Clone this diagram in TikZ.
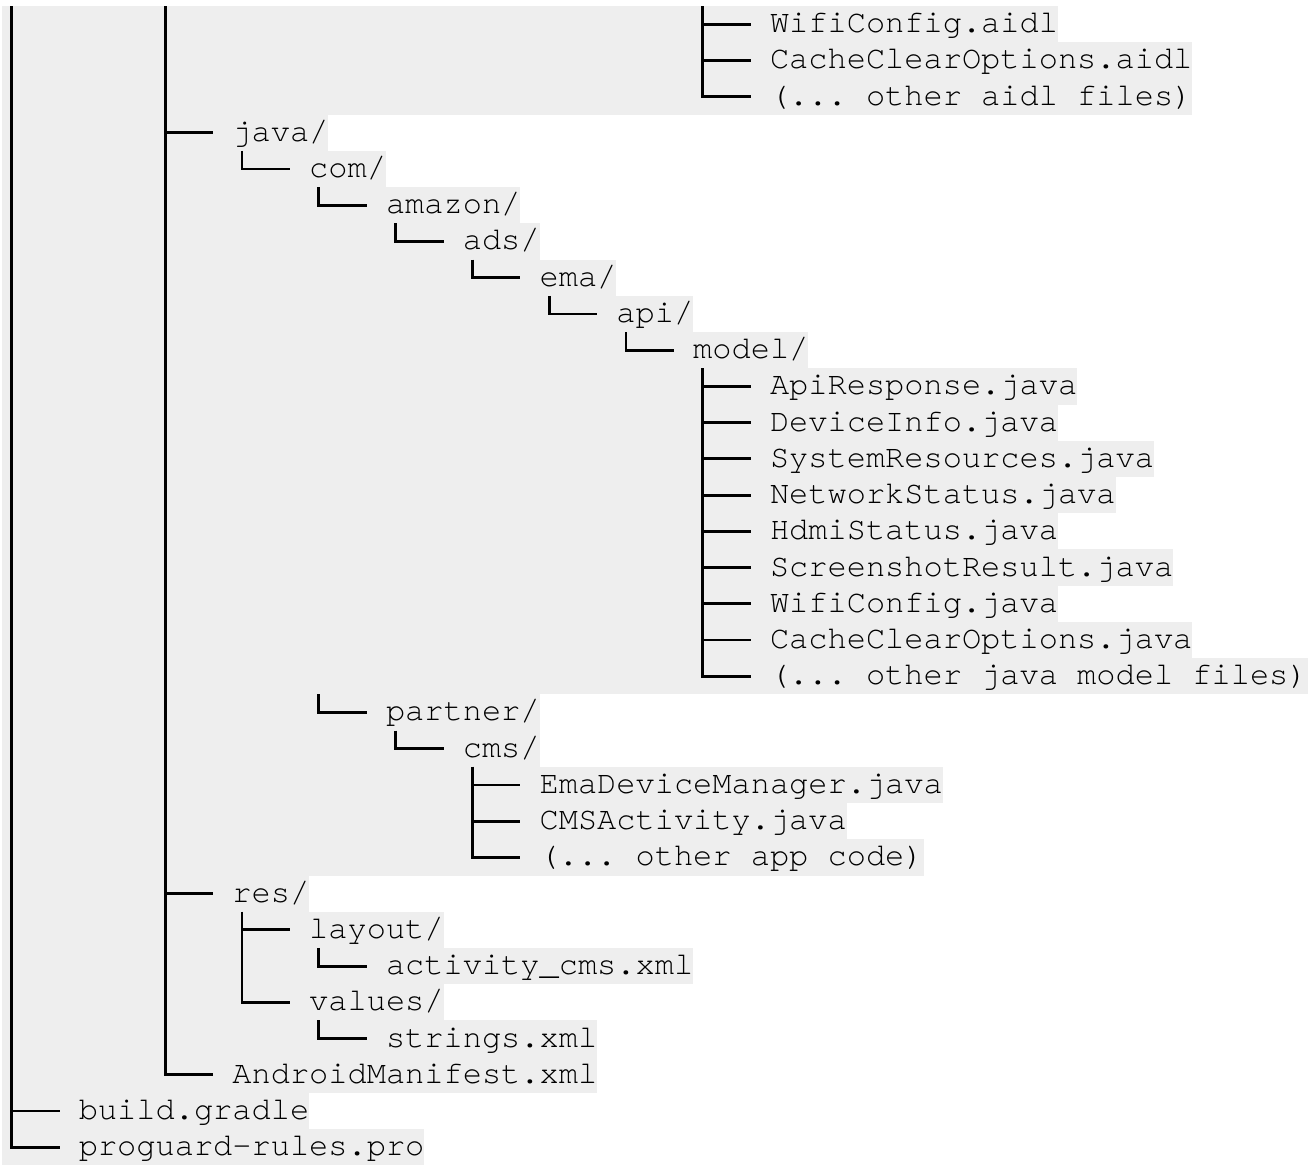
\documentclass[tikz,border=0pt]{standalone}
\usepackage{fontspec}
\newfontfamily\treefont[Ligatures=NoCommon]{texgyrecursor-regular.otf}
\usetikzlibrary{backgrounds}
\definecolor{rowbg}{RGB}{238,238,238}
\tikzset{
  entrybox/.style={anchor=north west, inner sep=0pt, outer sep=0pt,
    text height=26.6pt, text depth=9.63pt,
    font=\treefont\fontsize{32pt}{36.23pt}\selectfont\frenchspacing, text=black},
  conn/.style={draw=black, line width=2.8pt, line join=miter},
  rowfill/.style={fill=rowbg},
}
\newcommand\entry[4]{%
  \node[entrybox] (#1) at ({2+#3*19.2},{-6-#2*36.23}) {#4};
  \begin{scope}[on background layer]
    \fill[rowfill] (#1.north -| leftedge) rectangle (#1.south east);
  \end{scope}}
\newcommand\branch[2]{%
  \draw[conn] (#1) |- ([xshift=-19.2pt]#2.west);}
\begin{document}
\begin{tikzpicture}[x=1pt,y=1pt]
\useasboundingbox (0,0) rectangle (1308,-1165);
\coordinate (leftedge) at (2,0);
\coordinate (top0) at ({2+9.6},-6);
\coordinate (top8) at ({2+8*19.2+9.6},-6);
\coordinate (top36) at ({2+36*19.2+9.6},-6);

\entry{aidlA}{0}{40}{WifiConfig.aidl}
\entry{aidlB}{1}{40}{CacheClearOptions.aidl}
\entry{aidlC}{2}{40}{(... other aidl files)}
\entry{java}{3}{12}{java/}
\entry{com}{4}{16}{com/}
\entry{amazon}{5}{20}{amazon/}
\entry{ads}{6}{24}{ads/}
\entry{ema}{7}{28}{ema/}
\entry{api}{8}{32}{api/}
\entry{model}{9}{36}{model/}
\entry{mA}{10}{40}{ApiResponse.java}
\entry{mB}{11}{40}{DeviceInfo.java}
\entry{mC}{12}{40}{SystemResources.java}
\entry{mD}{13}{40}{NetworkStatus.java}
\entry{mE}{14}{40}{HdmiStatus.java}
\entry{mF}{15}{40}{ScreenshotResult.java}
\entry{mG}{16}{40}{WifiConfig.java}
\entry{mH}{17}{40}{CacheClearOptions.java}
\entry{mI}{18}{40}{(... other java model files)}
\entry{partner}{19}{20}{partner/}
\entry{cms}{20}{24}{cms/}
\entry{cA}{21}{28}{EmaDeviceManager.java}
\entry{cB}{22}{28}{CMSActivity.java}
\entry{cC}{23}{28}{(... other app code)}
\entry{res}{24}{12}{res/}
\entry{layout}{25}{16}{layout/}
\entry{actxml}{26}{20}{activity\_cms.xml}
\entry{values}{27}{16}{values/}
\entry{strings}{28}{20}{strings.xml}
\entry{manifest}{29}{12}{AndroidManifest.xml}
\entry{gradle}{30}{4}{build.gradle}
\entry{proguard}{31}{4}{proguard-rules.pro}

% off-screen parents
\branch{top0}{gradle}
\branch{top0}{proguard}
\branch{top8}{java}
\branch{top8}{res}
\branch{top8}{manifest}
\branch{top36}{aidlA}
\branch{top36}{aidlB}
\branch{top36}{aidlC}
% visible parents
\branch{[xshift=9.6pt]java.south west}{com}
\branch{[xshift=9.6pt]com.south west}{amazon}
\branch{[xshift=-67.2pt]partner.north west}{partner}
\branch{[xshift=9.6pt]amazon.south west}{ads}
\branch{[xshift=9.6pt]ads.south west}{ema}
\branch{[xshift=9.6pt]ema.south west}{api}
\branch{[xshift=9.6pt]api.south west}{model}
\foreach \m in {mA,mB,mC,mD,mE,mF,mG,mH,mI}{\branch{[xshift=9.6pt]model.south west}{\m}}
\branch{[xshift=9.6pt]partner.south west}{cms}
\foreach \c in {cA,cB,cC}{\branch{[xshift=9.6pt]cms.south west}{\c}}
\branch{[xshift=9.6pt]res.south west}{layout}
\branch{[xshift=9.6pt]res.south west}{values}
\branch{[xshift=9.6pt]layout.south west}{actxml}
\branch{[xshift=9.6pt]values.south west}{strings}
\end{tikzpicture}
\end{document}
